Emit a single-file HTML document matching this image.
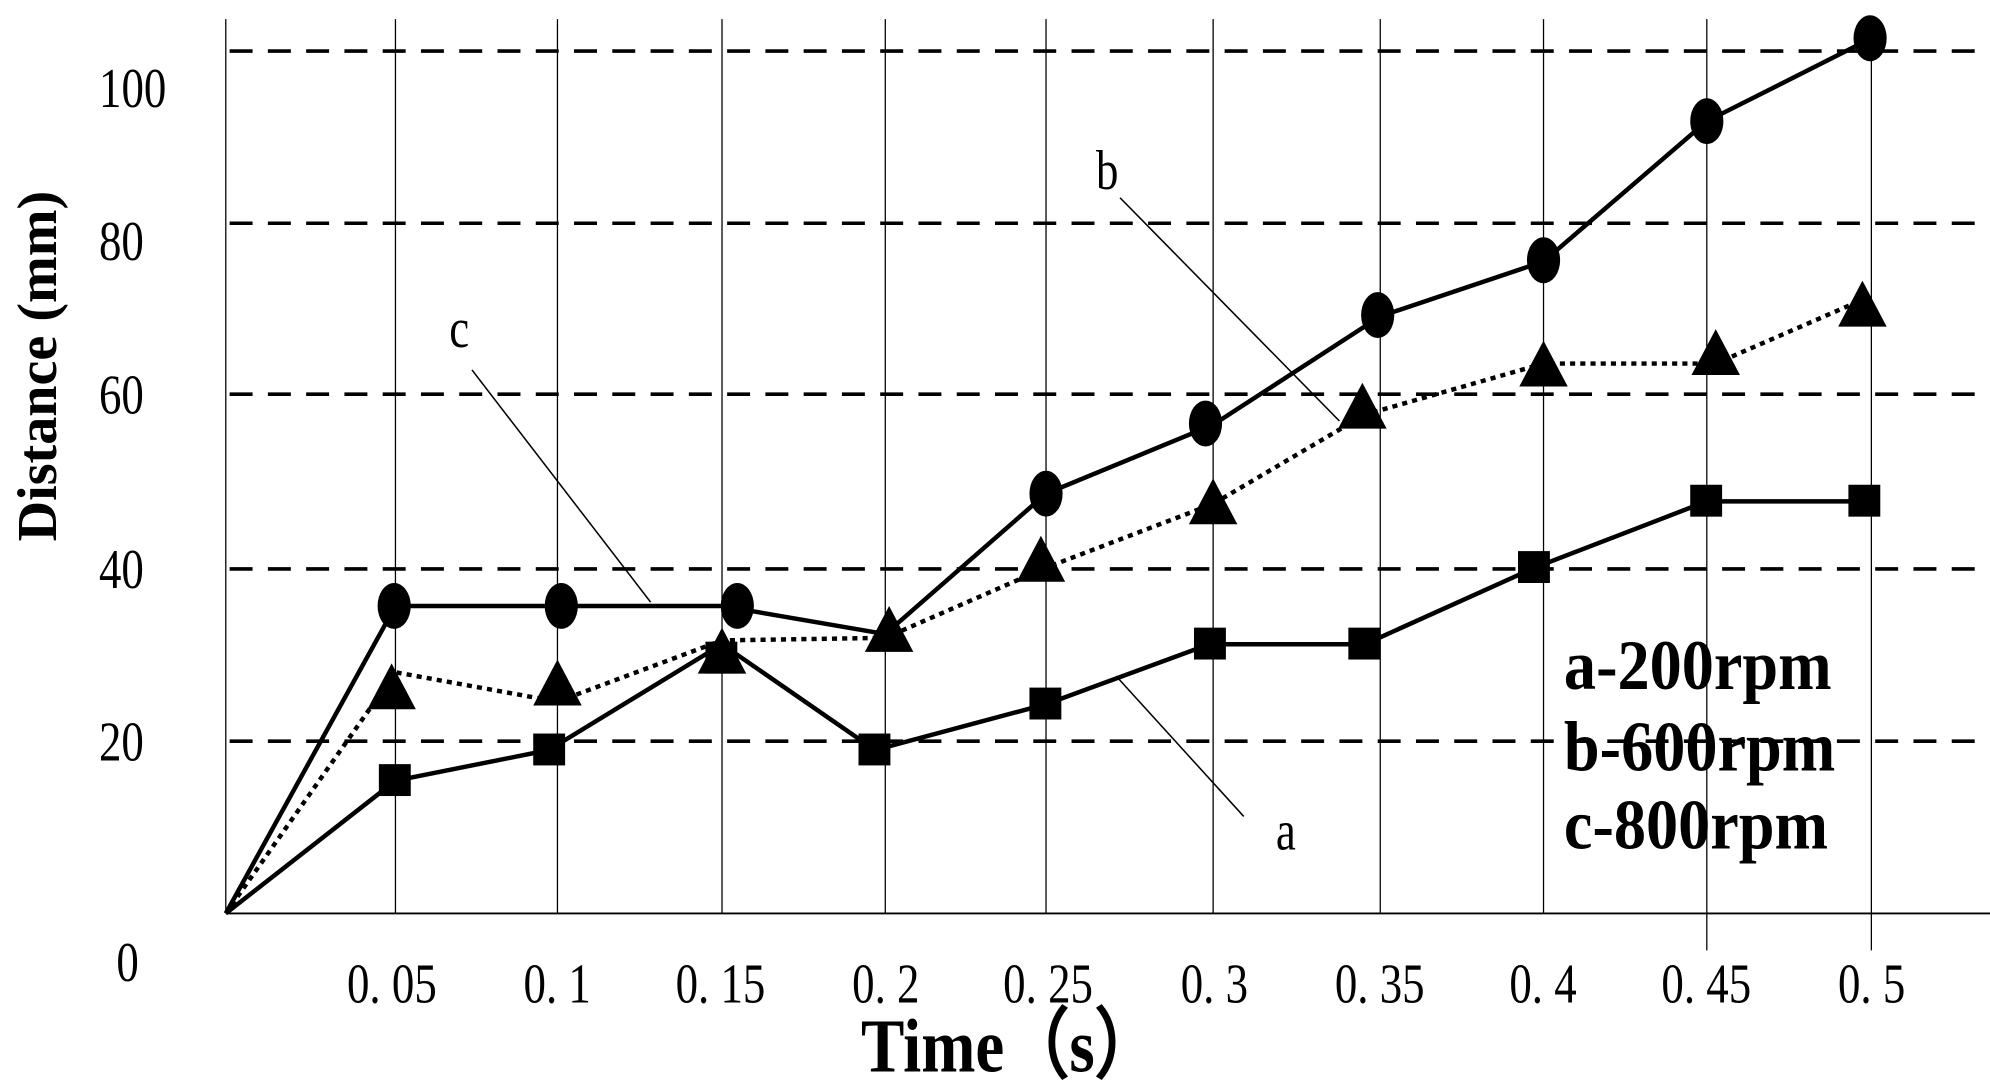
<!DOCTYPE html>
<html><head><meta charset="utf-8"><style>html,body{margin:0;padding:0;background:#fff}svg{display:block}</style></head>
<body>
<svg width="1990" height="1086" viewBox="0 0 1560 851.3" preserveAspectRatio="none" xmlns="http://www.w3.org/2000/svg">
<rect width="1560" height="852" fill="#fff"/>
<g font-family="Liberation Serif, serif" font-weight="bold" font-size="56" fill="#000">
<text x="0" y="0" transform="translate(1226 540) scale(0.9 1)">a-200rpm</text>
<text x="0" y="0" transform="translate(1226 604) scale(0.9 1)">b-600rpm</text>
<text x="0" y="0" transform="translate(1226 665) scale(0.9 1)">c-800rpm</text>
</g>
<g stroke="#000" stroke-width="1">
<line x1="177" y1="15" x2="177" y2="716"/>
<line x1="310" y1="15" x2="310" y2="716"/>
<line x1="437" y1="15" x2="437" y2="716"/>
<line x1="566" y1="15" x2="566" y2="716"/>
<line x1="694" y1="15" x2="694" y2="716"/>
<line x1="820" y1="15" x2="820" y2="716"/>
<line x1="951" y1="15" x2="951" y2="716"/>
<line x1="1082" y1="15" x2="1082" y2="716"/>
<line x1="1210" y1="15" x2="1210" y2="716"/>
<line x1="1338" y1="15" x2="1338" y2="745"/>
<line x1="1467" y1="15" x2="1467" y2="745"/>
<line x1="177" y1="716" x2="1560" y2="716" stroke-width="1.5"/>
</g>
<g stroke="#000" stroke-width="2.8" stroke-dasharray="18,12">
<line x1="180" y1="40" x2="1550" y2="40"/>
<line x1="180" y1="175" x2="1550" y2="175"/>
<line x1="180" y1="309" x2="1550" y2="309"/>
<line x1="180" y1="446" x2="1550" y2="446"/>
<line x1="180" y1="581" x2="1550" y2="581"/>
</g>
<g stroke="#000" stroke-width="1.2">
<line x1="370" y1="290" x2="510" y2="472"/>
<line x1="878" y1="155" x2="1050" y2="330"/>
<line x1="975" y1="640" x2="875" y2="530"/>
</g>
<polyline fill="none" stroke="#000" stroke-width="3.5" points="177,716 310,475 437,475 566,475 694,497 820,387 951,333 1082,248 1210,205 1338,95 1467,30"/>
<polyline fill="none" stroke="#000" stroke-width="3.5" stroke-dasharray="4,4" points="177,716 310,527 437,550 566,502 694,500 820,445 951,395 1070,325 1210,285 1345,285 1460,235"/>
<polyline fill="none" stroke="#000" stroke-width="3.5" points="177,716 310,612 430,588 566,505 686,588 820,552 948,505 1070,505 1203,445 1338,393 1462,393"/>
<g fill="#000">
<ellipse cx="309" cy="475" rx="13" ry="18"/><ellipse cx="440" cy="475" rx="13" ry="18"/><ellipse cx="578" cy="475" rx="13" ry="18"/><ellipse cx="820" cy="387" rx="13" ry="18"/><ellipse cx="945" cy="332" rx="13" ry="18"/><ellipse cx="1080" cy="247" rx="13" ry="18"/><ellipse cx="1210" cy="204" rx="13" ry="18"/><ellipse cx="1338" cy="95" rx="13" ry="18"/><ellipse cx="1466" cy="30" rx="13" ry="18"/>
<polygon points="307,520 288,556 326,556"/><polygon points="437,517 418,553 456,553"/><polygon points="566,492 547,528 585,528"/><polygon points="697,475 678,511 716,511"/><polygon points="816,420 797,456 835,456"/><polygon points="951,375 932,411 970,411"/><polygon points="1068,300 1049,336 1087,336"/><polygon points="1210,267 1191,303 1229,303"/><polygon points="1345,258 1326,294 1364,294"/><polygon points="1460,220 1441,256 1479,256"/>
<rect x="297" y="599" width="25" height="25"/><rect x="418" y="575" width="25" height="25"/><rect x="553" y="503" width="25" height="25"/><rect x="673" y="575" width="25" height="25"/><rect x="807" y="539" width="25" height="25"/><rect x="936" y="492" width="25" height="25"/><rect x="1057" y="492" width="25" height="25"/><rect x="1190" y="432" width="25" height="25"/><rect x="1325" y="380" width="25" height="25"/><rect x="1449" y="380" width="25" height="25"/>
</g>
<g font-family="Liberation Serif, serif" font-size="44" fill="#000" text-anchor="middle">
<g transform="scale(0.8 1)">
<text x="130" y="84">100</text><text x="119" y="204">80</text><text x="119" y="324">60</text><text x="119" y="461">40</text><text x="119" y="596">20</text><text x="125" y="769">0</text>
<text x="384" y="786">0. 05</text><text x="546" y="786">0. 1</text><text x="706" y="786">0. 15</text><text x="868" y="786">0. 2</text><text x="1027" y="786">0. 25</text><text x="1190" y="786">0. 3</text><text x="1352" y="786">0. 35</text><text x="1512" y="786">0. 4</text><text x="1672" y="786">0. 45</text><text x="1834" y="786">0. 5</text>
<text x="450" y="272">c</text><text x="1085" y="148">b</text><text x="1260" y="666">a</text>
</g>
</g>
<text x="0" y="0" font-family="Liberation Serif, serif" font-weight="bold" font-size="60" text-anchor="middle" transform="translate(792 840) scale(0.85 1)">Time（s）</text>
<text x="0" y="0" font-family="Liberation Serif, serif" font-weight="bold" font-size="44" text-anchor="middle" transform="translate(44 287) rotate(-90)">Distance (mm)</text>
</svg>
</body></html>
